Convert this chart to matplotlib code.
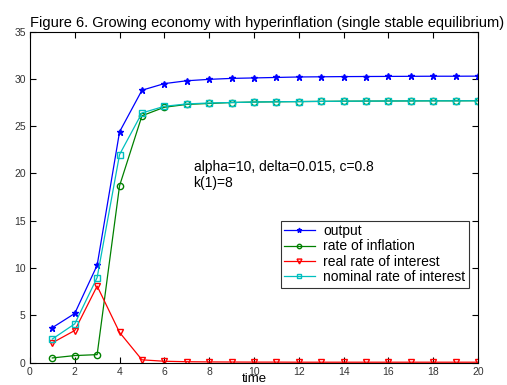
import matplotlib
matplotlib.use("Agg")
import matplotlib.pyplot as plt

plt.rcParams['font.family'] = ['Liberation Sans', 'DejaVu Sans']

time = list(range(1, 21))
output = [3.7, 5.2, 10.3, 24.4, 28.8, 29.5, 29.8, 29.95, 30.05, 30.1,
          30.15, 30.2, 30.22, 30.24, 30.25, 30.26, 30.27, 30.28, 30.28, 30.29]
inflation = [0.5, 0.75, 0.85, 18.7, 26.1, 27.0, 27.3, 27.4, 27.5, 27.55,
             27.58, 27.6, 27.62, 27.64, 27.65, 27.66, 27.67, 27.68, 27.68, 27.69]
real_rate = [2.1, 3.4, 8.1, 3.2, 0.3, 0.15, 0.1, 0.08, 0.07, 0.06,
             0.06, 0.05, 0.05, 0.05, 0.05, 0.05, 0.05, 0.05, 0.05, 0.05]
nominal = [2.5, 4.1, 9.0, 22.0, 26.4, 27.1, 27.35, 27.45, 27.5, 27.55,
           27.58, 27.6, 27.62, 27.64, 27.65, 27.66, 27.67, 27.68, 27.68, 27.69]

fig = plt.figure(figsize=(5.07, 3.85), dpi=100)
ax = fig.add_axes([0.059, 0.058, 0.884, 0.860])

ax.plot(time, output, color='#0000ff', marker='*', ms=5, lw=0.9, label='output')
ax.plot(time, inflation, color='#008000', marker='o', ms=4.5, mfc='none', lw=0.9,
        label='rate of inflation')
ax.plot(time, real_rate, color='#ff0000', marker='v', ms=5, mfc='none', lw=0.9,
        label='real rate of interest')
ax.plot(time, nominal, color='#00bfbf', marker='s', ms=4.5, mfc='none', lw=0.9,
        label='nominal rate of interest')

ax.set_xlim(0, 20)
ax.set_ylim(0, 35)
ax.set_xticks(range(0, 21, 2))
ax.set_yticks(range(0, 36, 5))
ax.tick_params(direction='in', top=True, right=True, labelsize=7.5, length=4, pad=3,
               labelcolor='#333333')
ax.set_xlabel('time', fontsize=9.5, labelpad=-3)
ax.set_title('Figure 6. Growing economy with hyperinflation (single stable equilibrium)',
             fontsize=10.5, pad=3, loc='left')

ax.text(7.3, 20.7, 'alpha=10, delta=0.015, c=0.8', fontsize=10, va='center')
ax.text(7.3, 19.0, 'k(1)=8', fontsize=10, va='center')

leg = ax.legend(loc='upper left', bbox_to_anchor=(0.544, 0.450), fontsize=10,
                frameon=True, fancybox=False, edgecolor='black', borderpad=0.25,
                labelspacing=0.1, handlelength=2.2, handletextpad=0.6, markerscale=0.7)
leg.get_frame().set_linewidth(0.8)

fig.savefig('out.png', dpi=100)
